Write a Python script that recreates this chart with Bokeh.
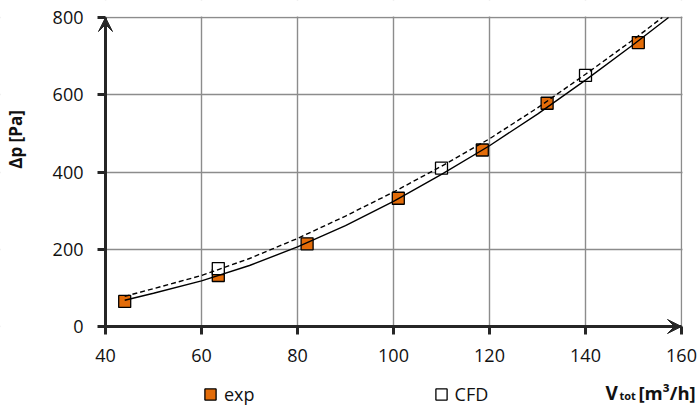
from bokeh.plotting import figure
from bokeh.models import (FixedTicker, Arrow, VeeHead, Label, Legend, LegendItem,
                          LinearAxis, Range1d, BoxAnnotation)
from bokeh.embed import file_html
from bokeh.resources import INLINE

# ---- data ----
exp_x = [44, 63.5, 82, 101, 118.5, 132, 151]
exp_y = [65, 132, 214, 332, 457, 578, 735]

cfd_x = [63.5, 110, 140]
cfd_y = [150, 410, 650]

# trend line through exp points (solid), ends where it leaves the plot at 800
fit_exp_x = [44, 50, 60, 70, 80, 90, 100, 110, 120, 130, 140, 150, 157.3]
fit_exp_y = [68, 86, 118, 158, 206, 261, 324, 394, 468, 550, 638, 730, 800]

# trend line through CFD points (dashed)
fit_cfd_x = [44, 50, 60, 70, 80, 90, 100, 110, 120, 130, 140, 150, 156]
fit_cfd_y = [78, 98, 132, 176, 228, 286, 348, 415, 486, 566, 653, 743, 800]

x_ticks = [40, 60, 80, 100, 120, 140, 160]
y_ticks = [0, 200, 400, 600, 800]
x_min, x_max = 40, 160
y_min, y_max = 0, 800

AXIS = "#262626"
GRID = "#8c8c8c"
ORANGE = "#E36C09"
FONT = "Open Sans"
TXT = "#111111"

W, H = 699, 408
# pixel placement of the plotting area inside the canvas
px_left, px_right, px_top, px_bottom = 105, 681, 17, 326
sx = (px_right - px_left) / (x_max - x_min)
sy = (px_bottom - px_top) / (y_max - y_min)

x0, x1 = x_min - px_left / sx, x_max + (W - px_right) / sx
y0, y1 = y_min - (H - px_bottom) / sy, y_max + px_top / sy

# the frame covers the whole canvas, so nothing outside the data area is clipped
p = figure(width=W, height=H, x_range=Range1d(x0, x1), y_range=Range1d(y0, y1),
           output_backend="svg", toolbar_location=None, min_border=0)
p.outline_line_color = None
p.background_fill_color = "white"

p.xgrid.ticker = FixedTicker(ticks=x_ticks)
p.ygrid.ticker = FixedTicker(ticks=y_ticks)
for g in (p.xgrid, p.ygrid):
    g.grid_line_color = GRID
    g.grid_line_width = 1.4

# white masks keep the grid inside the data area
mk = dict(fill_color="white", fill_alpha=1, line_alpha=0, level="underlay")
ex_x, ex_y = 40, 400
p.add_layout(BoxAnnotation(left=x0 - ex_x, right=x_min, bottom=y0 - ex_y, top=y1 + ex_y, **mk))
p.add_layout(BoxAnnotation(left=x_max + 1 / sx, right=x1 + ex_x, bottom=y0 - ex_y, top=y1 + ex_y, **mk))
p.add_layout(BoxAnnotation(left=x0 - ex_x, right=x1 + ex_x, bottom=y0 - ex_y, top=y_min, **mk))
p.add_layout(BoxAnnotation(left=x0 - ex_x, right=x1 + ex_x, bottom=y_max + 1 / sy, top=y1 + ex_y, **mk))

p.xaxis.fixed_location = y_min
p.yaxis.fixed_location = x_min
p.xaxis.bounds = (x_min, x_max)
p.yaxis.bounds = (y_min, y_max)

for ax, ticks in ((p.xaxis[0], x_ticks), (p.yaxis[0], y_ticks)):
    ax.ticker = FixedTicker(ticks=ticks)
    ax.axis_line_color = AXIS
    ax.axis_line_width = 3
    ax.major_tick_line_color = AXIS
    ax.major_tick_line_width = 3
    ax.major_tick_out = 8
    ax.major_tick_in = 0
    ax.minor_tick_line_color = None
    ax.major_label_text_font = FONT
    ax.major_label_text_font_size = "18px"
    ax.major_label_text_color = TXT
p.xaxis.major_label_standoff = 14
p.yaxis.major_label_standoff = 14

# y axis title, placed a little above the middle as in the reference
ylab = LinearAxis(fixed_location=x_min, bounds=(168, y_max),
                  ticker=FixedTicker(ticks=[]),
                  axis_line_color=None, major_tick_line_color=None,
                  minor_tick_line_color=None, major_tick_out=8, major_tick_in=0,
                  axis_label="Δp [Pa]", axis_label_text_font=FONT,
                  axis_label_text_font_style="bold", axis_label_text_font_size="17px",
                  axis_label_text_color=TXT, axis_label_standoff=79)
p.add_layout(ylab, "left")

# markers
exp_r = p.scatter(exp_x, exp_y, marker="square", size=12, fill_color=ORANGE,
                  line_color="black", line_width=1.3)
cfd_r = p.scatter(cfd_x, cfd_y, marker="square", size=12, fill_color="white",
                  line_color="black", line_width=1.3)

# trend lines on top
p.line(fit_exp_x, fit_exp_y, line_color="black", line_width=1.4)
p.line(fit_cfd_x, fit_cfd_y, line_color="black", line_width=1.4, line_dash="5 3")

# axis arrows
p.add_layout(Arrow(end=VeeHead(size=14, fill_color=AXIS, line_color=AXIS, line_width=1),
                   x_start=x_min, y_start=y_min, x_end=x_min, y_end=y_max,
                   line_color=AXIS, line_width=3))
p.add_layout(Arrow(end=VeeHead(size=14, fill_color=AXIS, line_color=AXIS, line_width=1),
                   x_start=x_min, y_start=y_min, x_end=x_max, y_end=y_min,
                   line_color=AXIS, line_width=3))

# legend below the plot
legend = Legend(items=[LegendItem(label="exp", renderers=[exp_r]),
                       LegendItem(label="CFD", renderers=[cfd_r])],
                orientation="horizontal", location=(196, 0),
                glyph_width=28, glyph_height=28, label_standoff=0, spacing=172,
                padding=0, margin=0, border_line_color=None,
                background_fill_alpha=0,
                label_text_font=FONT, label_text_font_size="18px",
                label_text_color=TXT)
p.add_layout(legend)

# x axis title: V_tot [m³/h]
lab_kw = dict(x_units="screen", y_units="screen", text_font=FONT,
              text_font_style="bold", text_color=TXT, text_baseline="alphabetic")
p.add_layout(Label(x=605, y=16, text="V", text_font_size="19px", **lab_kw))
p.add_layout(Label(x=619, y=13, text="tot", text_font_size="11px", **lab_kw))
p.add_layout(Label(x=638, y=16, text="[m³/h]", text_font_size="18.5px", **lab_kw))

open("out.html", "w").write(file_html(p, INLINE))
